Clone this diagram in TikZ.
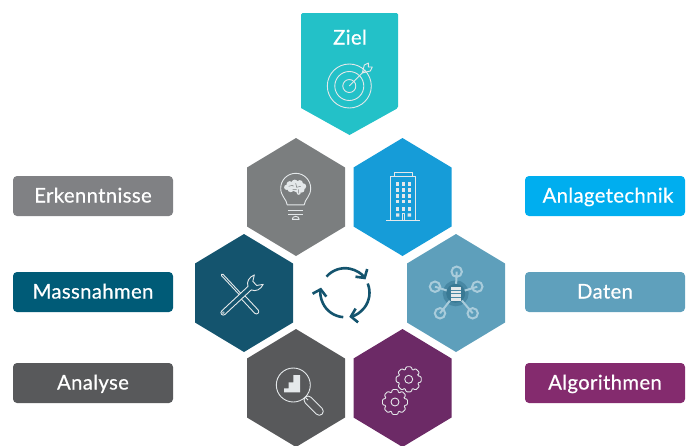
\documentclass[tikz,border=0pt]{standalone}
\usepackage{fontspec}
\setmainfont{Lato}[FakeBold=0.6]
\usetikzlibrary{positioning,calc,arrows.meta}
\definecolor{myteal}{HTML}{23C1C8}
\definecolor{mygrey}{HTML}{7B7E7F}
\definecolor{myblue}{HTML}{169CD8}
\definecolor{mypetrol}{HTML}{14546E}
\definecolor{mysky}{HTML}{5E9FBB}
\definecolor{mydark}{HTML}{58595B}
\definecolor{mypurple}{HTML}{6C2A66}
\definecolor{lblgrey}{HTML}{808184}
\definecolor{lblpetrol}{HTML}{005B77}
\definecolor{lblblue}{HTML}{00AEEF}
\definecolor{lblsky}{HTML}{5FA0BC}
\definecolor{lblpurple}{HTML}{842B6E}
\definecolor{myline}{HTML}{E4E8EA}
\definecolor{mynet}{HTML}{A9CCDB}

\begin{document}
\begin{tikzpicture}[x=1pt,y=-1pt,
  lbltext/.style={text=white,inner sep=0pt,text depth=0pt,text height=13pt,
    font=\fontsize{20.2}{21}\selectfont\addfontfeature{LetterSpace=2}},
  lbl/.style={lbltext,fill=#1,rounded corners=4pt,minimum width=160pt,minimum height=40pt},
  hexpt/.style={inner sep=0pt,minimum size=0pt},
  icon/.style={draw=myline,line width=0.9pt,line join=round},
  cycle/.style={draw=mypetrol,line width=2.6pt,-{Straight Barb[length=6pt,width=14pt,line width=2.6pt]}}
]
\useasboundingbox (0,0) rectangle (690,445);
\clip (0,0) rectangle (690,445);

% the banner
\fill[myteal,rounded corners=1.5pt] (301,13) -- (398,13) -- (398,60) -- (398,108) [sharp corners] -- (349.5,135) -- (301,108) [rounded corners=1.5pt] -- (301,60) -- cycle;
\node[lbltext] (ziel) at (350,38) {Ziel};

% the hexagons
\foreach \n/\x/\y/\c in {idea/296/197/mygrey,plant/402.5/197/myblue,tools/244/293/mypetrol,
    data/456/293/mysky,scan/296/388/mydark,algo/402.5/388/mypurple} {
  \node[hexpt] (\n) at (\x,\y) {};
  \fill[\c] (\n) ++(0,-59) -- ++(49,29.5) -- ++(0,59) -- ++(-49,29.5) -- ++(-49,-29.5) -- ++(0,-59) -- cycle;
}

% the labels
\foreach \n/\x/\y/\c/\t in {erk/93/196/lblgrey/Erkenntnisse,mas/93/292/lblpetrol/Massnahmen,ana/93/383/mydark/Analyse,
    anl/605/196/lblblue/\hspace{6pt}Anlagetechnik,dat/605/292/lblsky/Daten,alg/605/383/lblpurple/Algorithmen}
  \node[lbl=\c] (\n) at (\x,\y) {\t};

% the target
\begin{scope}[shift={(349.3,86)}]
\draw[icon] (0,0) circle[radius=22] (0,0) circle[radius=14.5] (0,0) circle[radius=6.5];
\draw[icon] (0,0) -- (16,-16);
\draw[icon] (13,-13) -- (15,-21) -- (19,-23) -- (19,-19) -- (23,-19) -- (21,-15) -- (13,-13);
\end{scope}

% the bulb
\begin{scope}[shift={(295.7,188.3)}]
\draw[icon] (-8.5,16.5) .. controls (-9,11) and (-15,8) .. (-15,0) arc[start angle=180,end angle=360,radius=15]
  .. controls (15,8) and (9,11) .. (8.5,16.5) -- cycle;
\draw[icon] (-7.5,21.7) -- (7.5,21.7) (-7.5,26.4) -- (7.5,26.4);
\draw[icon] (-3.5,31) -- (3.5,31) arc[start angle=0,end angle=180,x radius=3.5,y radius=-3];
\fill[myline] (-9,-1) circle[radius=2.6] (-6,-4) circle[radius=3.2] (-1,-5.5) circle[radius=3.2] (4,-5) circle[radius=3.2]
  (7.5,-2) circle[radius=3] (6,1.5) circle[radius=2.8] (1,0) circle[radius=4] (-5,0.5) circle[radius=3.4] (3,4.5) circle[radius=2];
\draw[mygrey,line width=0.5pt] (-7,-2) -- (-3,-3) (0,-5) -- (1,-1) -- (5,-2) (-3,1) -- (1,1) (3,1) -- (3,5);
\end{scope}

% the building
\draw[icon] (394,176) -- (394,172.3) -- (412.3,172.3) -- (412.3,176);
\draw[icon] (390.7,220.5) -- (390.7,176) -- (415.7,176) -- (415.7,220.5);
\draw[icon] (386,220.5) -- (420,220.5);
\foreach \x in {397.7,403.3,409.3}
  \foreach \y in {184,190,196,201.7,209}
    \fill[myline] (\x-1.7,\y-1.7) rectangle ++(3.4,3.4);
\fill[myline] (396,213.3) rectangle ++(3.4,3.4) (407.6,213.3) rectangle ++(3.4,3.4);
\draw[icon] (402,220.5) -- (402,213.5) -- (404.6,213.5) -- (404.6,220.5);

% the tools
\begin{scope}[shift={(222.3,275)},rotate=-47]
\draw[icon,fill=mypetrol] (0,-1) -- (28,-1) -- (30,-2.4) -- (50,-2.4) arc[start angle=-90,end angle=90,radius=2.4] -- (30,2.4) -- (28,1) -- (0,1) arc[start angle=90,end angle=270,radius=1] -- cycle;
\end{scope}
\begin{scope}[shift={(223.3,312.7)},rotate=43]
\draw[icon,fill=mypetrol] (0,-2.4) -- (36,-2.4) .. controls (38,-7) and (43,-8.5) .. (48.5,-6.5) -- (43,-2.8) -- (43,2.8) -- (48.5,6.5)
  .. controls (43,8.5) and (38,7) .. (36,2.4) -- (0,2.4) arc[start angle=90,end angle=270,radius=2.4] -- cycle;
\draw[icon,line width=0.6pt] (0,0) circle[radius=1];
\end{scope}

% the cycle
\begin{scope}[shift={(345,292.7)}]
\draw[cycle] (-139:24.5) arc[start angle=-139,end angle=-33,radius=24.5];
\draw[cycle] (-22:24.5) arc[start angle=-22,end angle=80,radius=24.5];
\draw[cycle] (94:24.5) arc[start angle=94,end angle=192,radius=24.5];
\end{scope}

% the network
\fill[mypetrol!30!mysky] (455.7,293.3) circle[radius=13];
\foreach \x/\y in {456.7/271.7,435/286.7,477.3/286.7,440/313.3,472.7/313.3}
  \draw[mynet,line width=2pt,shorten >=5pt] ($(\x,\y)$) -- (455.7,293.3) ($(\x,\y)$) circle[radius=5.2];
\fill[mypetrol!50!mysky] (455.7,293.3) circle[radius=9.5];
\fill[myline] (450.5,287) rectangle (461,300.5);
\foreach \y in {290.5,293.7,297}
  \draw[mypetrol!30!mysky,line width=0.5pt] (450.5,\y) -- (461,\y);

% the lens
\draw[icon] (293.3,385) circle[radius=17];
\draw[icon] (305,397) -- (308,400);
\begin{scope}[shift={(308,400)},rotate=-45]
\draw[icon] (0,-4) -- (16,-4) arc[start angle=-90,end angle=90,radius=4] -- (0,4) arc[start angle=90,end angle=270,radius=4] -- cycle;
\end{scope}
\fill[myline] (284,392.3) -- (284,388.3) -- (288.5,388.3) -- (288.5,382.3) -- (293.3,382.3) -- (293.3,375) -- (300,375) -- (300,392.3) -- cycle;

% the gears
\foreach \x/\y in {408.7/379.3,395/402} {
  \begin{scope}[shift={(\x,\y)}]
  \draw[icon,rounded corners=1pt] (-22:9.6) \foreach \a in {0,45,...,315} { -- (\a-12:12.8) -- (\a+12:12.8) -- (\a+23:9.6) } -- cycle;
  \draw[icon] (0,0) circle[radius=4];
  \end{scope}
}
\end{tikzpicture}
\end{document}
